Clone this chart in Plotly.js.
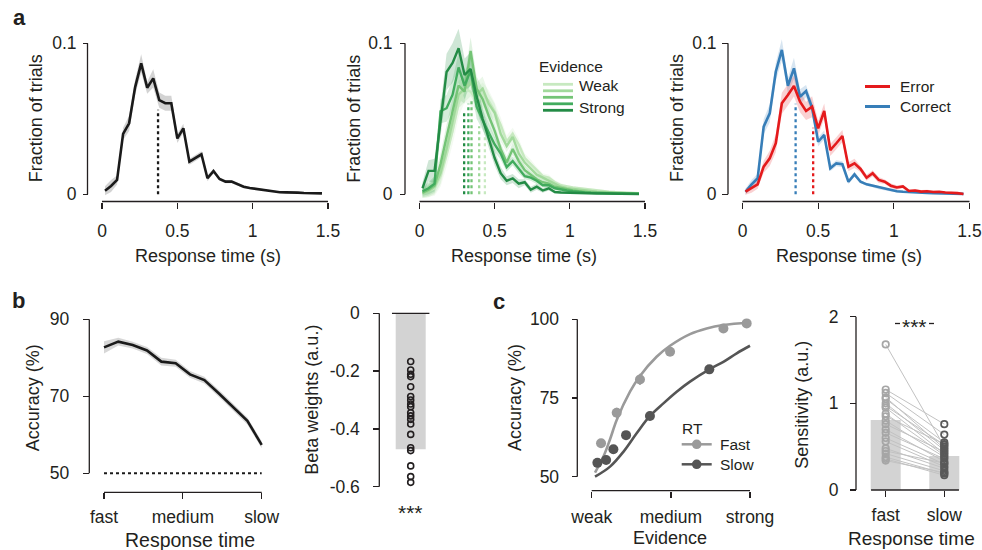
<!DOCTYPE html>
<html>
<head>
<meta charset="utf-8">
<script src="https://cdn.plot.ly/plotly-3.0.1.min.js"></script>
<style>
  html, body { margin: 0; padding: 0; background: #fff; }
  #fig { width: 982px; height: 550px; }
</style>
</head>
<body>
<div id="fig"></div>
<script>
// ---------------- data ----------------
// response-time histogram bin centres (s)
const rtBins = [0.02, 0.06, 0.10, 0.14, 0.18, 0.22, 0.26, 0.30, 0.34, 0.38, 0.42, 0.46, 0.50, 0.54, 0.58, 0.62, 0.66, 0.70, 0.74,
  0.78, 0.82, 0.86, 0.90, 0.94, 0.98, 1.02, 1.06, 1.10, 1.14, 1.18, 1.22, 1.26, 1.30, 1.34, 1.38, 1.42, 1.46];
const rtTicks = [0, 0.5, 1, 1.5];
const rtTickText = ['0', '0.5', '1', '1.5'];
const fracTicks = [0, 0.1];
const fracTickText = ['0', '0.1'];

// all trials
const fracAll = [0.0024, 0.0055, 0.0095, 0.040, 0.047, 0.071, 0.0867, 0.0706, 0.0768, 0.0624, 0.0603, 0.0603, 0.037, 0.0437,
  0.0216, 0.0238, 0.0265, 0.0106, 0.0154, 0.0101, 0.0084, 0.0084, 0.0066, 0.005, 0.0042, 0.0036, 0.0034, 0.0026, 0.002, 0.0014,
  0.0013, 0.0014, 0.0011, 0.0009, 0.0008, 0.0008, 0.0006];
const semAll = [0.003, 0.004, 0.003, 0.004, 0.005, 0.005, 0.006, 0.004, 0.006, 0.005, 0.005, 0.005, 0.003, 0.003, 0.002, 0.002,
  0.002, 0.002, 0.0015, 0.001, 0.001, 0.001, 0.001, 0.001, 0.0008, 0.0008, 0.0007, 0.0006, 0.0005, 0.0005, 0.0005, 0.0004,
  0.0004, 0.0004, 0.0003, 0.0003, 0.0003];
const medianAll = 0.372;
const medianAllTop = 0.056;

// split by evidence strength (weak -> strong)
const evidenceNames = ['Weak', '', '', '', 'Strong'];
const evidenceColors = ['#c7e9c0', '#a1d99b', '#74c476', '#41ab5d', '#238b45'];
const fracEv1 = [0.0005, 0.002, 0.004, 0.012, 0.026, 0.042, 0.060, 0.070, 0.068, 0.062, 0.066, 0.062, 0.055, 0.046, 0.035, 0.040,
  0.033, 0.024, 0.020, 0.016, 0.012, 0.011, 0.008, 0.006, 0.005, 0.0045, 0.004, 0.0035, 0.003, 0.0025, 0.002, 0.0018, 0.0015,
  0.0013, 0.0012, 0.001, 0.0008];
const fracEv2 = [0.0005, 0.002, 0.005, 0.014, 0.030, 0.048, 0.066, 0.070, 0.074, 0.066, 0.070, 0.060, 0.054, 0.040, 0.032, 0.038,
  0.027, 0.021, 0.017, 0.013, 0.011, 0.009, 0.007, 0.005, 0.004, 0.0035, 0.003, 0.0025, 0.002, 0.0017, 0.0015, 0.0012, 0.001,
  0.0009, 0.0008, 0.0007, 0.0006];
const fracEv3 = [0.001, 0.003, 0.006, 0.020, 0.038, 0.055, 0.072, 0.068, 0.095, 0.070, 0.063, 0.052, 0.042, 0.030, 0.021, 0.030,
  0.022, 0.016, 0.013, 0.010, 0.008, 0.007, 0.005, 0.004, 0.003, 0.0025, 0.002, 0.0015, 0.0012, 0.001, 0.0009, 0.0008, 0.0007,
  0.0006, 0.0005, 0.0005, 0.0004];
const fracEv4 = [0.002, 0.004, 0.007, 0.055, 0.057, 0.066, 0.084, 0.072, 0.082, 0.058, 0.049, 0.041, 0.033, 0.027, 0.018, 0.022,
  0.017, 0.012, 0.011, 0.009, 0.006, 0.006, 0.004, 0.003, 0.0025, 0.002, 0.0015, 0.0012, 0.001, 0.001, 0.0008, 0.0007, 0.0006,
  0.0005, 0.0005, 0.0004, 0.0004];
const fracEv5 = [0.004, 0.0155, 0.0155, 0.050, 0.081, 0.087, 0.0967, 0.079, 0.083, 0.065, 0.050, 0.037, 0.024, 0.014, 0.009, 0.0105,
  0.007, 0.008, 0.003, 0.005, 0.0025, 0.004, 0.0015, 0.0012, 0.001, 0.001, 0.0008, 0.0006, 0.0006, 0.0005, 0.0005, 0.0004, 0.0004,
  0.0003, 0.0003, 0.0003, 0.0002];
const semEv1 = [0.003, 0.004, 0.005, 0.007, 0.008, 0.009, 0.009, 0.009, 0.009, 0.008, 0.008, 0.007, 0.006, 0.005, 0.004, 0.004,
  0.004, 0.003, 0.003, 0.002, 0.002, 0.002, 0.0015, 0.0015, 0.001, 0.001, 0.001, 0.001, 0.0008, 0.0008, 0.0008, 0.0006, 0.0006,
  0.0006, 0.0005, 0.0005, 0.0005];
const semEv2 = [0.003, 0.004, 0.005, 0.007, 0.008, 0.009, 0.009, 0.009, 0.009, 0.008, 0.008, 0.007, 0.006, 0.005, 0.004, 0.004,
  0.004, 0.003, 0.003, 0.002, 0.002, 0.002, 0.0015, 0.0015, 0.001, 0.001, 0.001, 0.001, 0.0008, 0.0008, 0.0008, 0.0006, 0.0006,
  0.0006, 0.0005, 0.0005, 0.0005];
const semEv3 = [0.003, 0.004, 0.005, 0.007, 0.008, 0.009, 0.009, 0.008, 0.009, 0.008, 0.007, 0.006, 0.005, 0.004, 0.004, 0.004,
  0.003, 0.003, 0.002, 0.002, 0.002, 0.0015, 0.0015, 0.001, 0.001, 0.001, 0.001, 0.0008, 0.0008, 0.0008, 0.0006, 0.0006, 0.0006,
  0.0005, 0.0005, 0.0005, 0.0004];
const semEv4 = [0.003, 0.004, 0.005, 0.008, 0.009, 0.010, 0.010, 0.009, 0.009, 0.008, 0.007, 0.006, 0.005, 0.004, 0.003, 0.003,
  0.003, 0.002, 0.002, 0.002, 0.0015, 0.0015, 0.001, 0.001, 0.001, 0.001, 0.0008, 0.0008, 0.0008, 0.0006, 0.0006, 0.0006, 0.0005,
  0.0005, 0.0005, 0.0004, 0.0004];
const semEv5 = [0.004, 0.007, 0.008, 0.010, 0.012, 0.013, 0.013, 0.011, 0.011, 0.009, 0.007, 0.006, 0.005, 0.004, 0.003, 0.003,
  0.003, 0.002, 0.002, 0.002, 0.0015, 0.0015, 0.001, 0.001, 0.001, 0.001, 0.0008, 0.0008, 0.0008, 0.0006, 0.0006, 0.0006, 0.0005,
  0.0005, 0.0005, 0.0004, 0.0004];
const medianEv = [0.435, 0.397, 0.346, 0.325, 0.297];
const medianEvTop = [0.040, 0.045, 0.062, 0.060, 0.055];

// split by outcome
const fracError = [0.0017, 0.004, 0.0066, 0.0183, 0.0238, 0.0338, 0.0603, 0.0658, 0.0717, 0.0613, 0.0552, 0.058, 0.0437, 0.0552,
  0.0293, 0.0338, 0.0386, 0.0183, 0.0205, 0.0168, 0.011, 0.0139, 0.0095, 0.0083, 0.0057, 0.0045, 0.0052, 0.0022, 0.0025, 0.0018,
  0.002, 0.0015, 0.0017, 0.0012, 0.0011, 0.0008, 0.0002];
const fracCorrect = [0.0017, 0.0066, 0.0106, 0.0448, 0.0536, 0.0812, 0.0956, 0.0719, 0.0834, 0.0646, 0.0684, 0.0573, 0.0348, 0.0393,
  0.0172, 0.0205, 0.0199, 0.0083, 0.0132, 0.0083, 0.0066, 0.0057, 0.0044, 0.0035, 0.0026, 0.002, 0.0017, 0.0014, 0.0011, 0.0010,
  0.0009, 0.0008, 0.0007, 0.0006, 0.0005, 0.0004, 0.0003];
const semError = [0.002, 0.003, 0.003, 0.004, 0.005, 0.006, 0.007, 0.007, 0.007, 0.007, 0.006, 0.007, 0.005, 0.005, 0.004, 0.004,
  0.004, 0.003, 0.003, 0.002, 0.002, 0.002, 0.002, 0.0015, 0.0015, 0.0015, 0.0012, 0.001, 0.001, 0.001, 0.001, 0.001, 0.0008,
  0.0008, 0.0006, 0.0005, 0.0005];
const semCorrect = [0.002, 0.003, 0.003, 0.005, 0.006, 0.006, 0.007, 0.005, 0.007, 0.005, 0.004, 0.004, 0.003, 0.003, 0.002, 0.002,
  0.002, 0.0015, 0.0015, 0.001, 0.001, 0.001, 0.001, 0.001, 0.0008, 0.0008, 0.0007, 0.0006, 0.0005, 0.0005, 0.0005, 0.0004, 0.0004,
  0.0004, 0.0003, 0.0003, 0.0003];
const medianError = 0.467, medianErrorTop = 0.044;
const medianCorrect = 0.351, medianCorrectTop = 0.060;

// accuracy across response-time bins (fast -> slow)
const rtRank = [0, 1, 2, 3, 4, 5, 6, 7, 8, 9, 10, 11];
const rtRankTicks = [0, 5.5, 11];
const rtRankText = ['fast', 'medium', 'slow'];
const accByRt = [82.7, 84.2, 83.3, 81.9, 79.0, 78.6, 75.7, 74.2, 70.8, 67.3, 63.6, 57.4];
const accByRtSem = [1.6, 1.0, 0.9, 0.9, 1.0, 0.9, 0.9, 0.9, 0.9, 0.9, 0.9, 0.9];
const chanceLevel = 50;
const accTicksB = [50, 70, 90];

// regression beta weights of response time on accuracy
const betaMean = -0.47;
const betaSubjects = [-0.167, -0.196, -0.211, -0.219, -0.254, -0.288, -0.300, -0.314, -0.323, -0.344, -0.355, -0.367, -0.383,
  -0.419, -0.465, -0.475, -0.528, -0.565, -0.585];
const betaTicks = [0, -0.2, -0.4, -0.6];
const betaTickText = ['0', '-0.2', '-0.4', '-0.6'];

// psychometric data, fast vs slow responses
const evTicks = [0, 0.5, 1];
const evTickText = ['weak', 'medium', 'strong'];
const accTicksC = [50, 75, 100];
const fastEvX = [0.059, 0.158, 0.305, 0.495, 0.832, 0.979];
const fastAcc = [60.6, 70.3, 80.9, 89.7, 97.1, 98.7];
const fastAccSem = [1.4, 1.6, 1.8, 1.0, 0.8, 0.6];
const slowEvX = [0.036, 0.091, 0.137, 0.217, 0.368, 0.743];
const slowAcc = [54.4, 55.3, 58.7, 63.2, 69.3, 84.1];
const slowAccSem = [1.0, 1.0, 1.0, 1.2, 1.4, 1.3];
const fastFitX = [0.021, 0.074, 0.116, 0.158, 0.242, 0.305, 0.41, 0.495, 0.621, 0.726, 0.832, 1.0];
const fastFitY = [51.3, 56.4, 61.9, 68.0, 77.0, 82.0, 88.1, 91.6, 95.3, 97.1, 98.2, 99.0];
const slowFitX = [0.021, 0.116, 0.2, 0.284, 0.368, 0.453, 0.537, 0.621, 0.743, 0.832, 0.916, 1.0];
const slowFitY = [50.0, 53.2, 57.9, 63.8, 69.3, 73.3, 77.0, 80.2, 84.1, 86.5, 89.2, 91.6];

// per-subject sensitivity
const sensGroups = [0, 1];
const sensGroupText = ['fast', 'slow'];
const sensMean = [0.807, 0.392];
const sensFast = [1.68, 1.16, 1.12, 1.07, 1.05, 1.00, 0.97, 0.95, 0.88, 0.85, 0.80, 0.76, 0.70, 0.66, 0.60, 0.56, 0.48, 0.45,
  0.42, 0.38, 0.36, 0.34];
const sensSlow = [0.50, 0.76, 0.64, 0.48, 0.55, 0.46, 0.52, 0.42, 0.40, 0.53, 0.38, 0.44, 0.33, 0.36, 0.30, 0.27, 0.25, 0.31,
  0.22, 0.19, 0.17, 0.20];
const sensTicks = [0, 1, 2];

// ---------------- styling ----------------
const W = 982, H = 550;
const FONT = 'Liberation Sans, Arial, Helvetica, sans-serif';
const INK = '#231f20';
const TICK_SIZE = 17.5;

// map a pair of calibration values to pixels and return the pixel span of a range
function span(cal, r) {
  const [v0, p0, v1, p1] = cal;
  const s = (p1 - p0) / (v1 - v0);
  return [p0 + (r[0] - v0) * s, p0 + (r[1] - v0) * s];
}
const xDomain = (cal, r) => span(cal, r).map(p => p / W);
const yDomain = (cal, r) => { const [a, b] = span(cal, r); return [1 - a / H, 1 - b / H]; };

// subplot geometry (pixel calibrations of the axes)
const panels = [
  { xcal: [0, 102, 1.5, 328], ycal: [0, 194.3, 0.1, 43.3], xr: [-0.02, 1.52], yr: [-0.008, 0.114],
    yPos: 87.5, xPos: 201.5, xSpine: [0, 1.5], ySpine: [0, 0.1], xt: [rtTicks, rtTickText], yt: [fracTicks, fracTickText],
    ylen: 4.5, ystand: 3, xstand: 7 },
  { xcal: [0, 419.5, 1.5, 645], ycal: [0, 194.3, 0.1, 43.3], xr: [-0.02, 1.52], yr: [-0.008, 0.114],
    yPos: 405, xPos: 201.5, xSpine: [0, 1.5], ySpine: [0, 0.1], xt: [rtTicks, rtTickText], yt: [fracTicks, fracTickText],
    ylen: 5, ystand: 4, xstand: 7 },
  { xcal: [0, 742.5, 1.5, 969.5], ycal: [0, 194.3, 0.1, 43.3], xr: [-0.02, 1.52], yr: [-0.008, 0.114],
    yPos: 728, xPos: 201.5, xSpine: [0, 1.5], ySpine: [0, 0.1], xt: [rtTicks, rtTickText], yt: [fracTicks, fracTickText],
    ylen: 6, ystand: 2, xstand: 7 },
  { xcal: [0, 104, 11, 261.7], ycal: [50, 473.3, 90, 319.3], xr: [-0.4, 11.4], yr: [47, 92],
    yPos: 89.3, xPos: 492.3, xSpine: [0, 11], ySpine: [50, 90], xt: [rtRankTicks, rtRankText], yt: [accTicksB, accTicksB.map(String)],
    ylen: 6.5, ystand: 10, xstand: 3 },
  { xcal: [0, 410.7, 1, 458.7], ycal: [-0.6, 486.7, 0, 313.3], xr: [-0.6, 0.6], yr: [-0.63, 0.02],
    yPos: 379.3, xPos: 313.3, xSpine: [-0.39, 0.39], ySpine: [-0.6, 0], xt: null, yt: [betaTicks, betaTickText],
    ylen: 6, ystand: 10, xstand: 0 },
  { xcal: [0, 591.7, 1, 750], ycal: [50, 476.7, 100, 319.3], xr: [-0.06, 1.06], yr: [47, 103],
    yPos: 577.3, xPos: 490.7, xSpine: [0, 1], ySpine: [50, 100], xt: [evTicks, evTickText], yt: [accTicksC, accTicksC.map(String)],
    ylen: 5.7, ystand: 9, xstand: 4 },
  { xcal: [0, 885.7, 1, 944.3], ycal: [0, 490, 2, 316.7], xr: [-0.3, 1.3], yr: [-0.05, 2.1],
    yPos: 856, xPos: 490, xSpine: [-0.25, 1.25], ySpine: [0, 2], xt: [sensGroups, sensGroupText], yt: [sensTicks, sensTicks.map(String)],
    ylen: 6, ystand: 8, xstand: 3 }
];

const layout = {
  width: W, height: H,
  margin: { l: 0, r: 0, t: 0, b: 0, pad: 0 },
  paper_bgcolor: '#ffffff', plot_bgcolor: 'rgba(0,0,0,0)',
  showlegend: false,
  font: { family: FONT, color: INK, size: TICK_SIZE },
  shapes: [], annotations: []
};
const axRef = [];
panels.forEach((p, i) => {
  const n = i === 0 ? '' : String(i + 1);
  axRef.push(['x' + n, 'y' + n]);
  const tickfont = { family: FONT, size: TICK_SIZE, color: INK };
  layout['xaxis' + n] = {
    domain: xDomain(p.xcal, p.xr), range: p.xr, anchor: 'free', position: 1 - p.xPos / H,
    showline: false, zeroline: false, showgrid: false, fixedrange: true,
    ticks: p.xt ? 'outside' : '', ticklen: 6, tickwidth: 1.3, tickcolor: INK,
    tickmode: 'array', tickvals: p.xt ? p.xt[0] : [], ticktext: p.xt ? p.xt[1] : [],
    showticklabels: !!p.xt, tickfont, ticklabelstandoff: p.xstand
  };
  layout['yaxis' + n] = {
    domain: yDomain(p.ycal, p.yr), range: p.yr, anchor: 'free', position: p.yPos / W,
    showline: false, zeroline: false, showgrid: false, fixedrange: true,
    ticks: 'outside', ticklen: p.ylen, tickwidth: 1.3, tickcolor: INK,
    tickmode: 'array', tickvals: p.yt[0], ticktext: p.yt[1],
    showticklabels: true, tickfont, ticklabelstandoff: p.ystand
  };
  // axis spines spanning only the labelled range
  const [xs0, xs1] = span(p.xcal, p.xSpine);
  const [ys0, ys1] = span(p.ycal, p.ySpine);
  const spine = { type: 'line', xref: 'paper', yref: 'paper', line: { color: INK, width: 1.3 }, layer: 'above' };
  layout.shapes.push(Object.assign({}, spine, { x0: xs0 / W, x1: xs1 / W, y0: 1 - p.xPos / H, y1: 1 - p.xPos / H }));
  layout.shapes.push(Object.assign({}, spine, { x0: p.yPos / W, x1: p.yPos / W, y0: 1 - ys0 / H, y1: 1 - ys1 / H }));
});

// ---------------- traces ----------------
const traces = [];
function band(ax, xs, ys, es, color) {
  const up = ys.map((v, i) => v + es[i]);
  const lo = ys.map((v, i) => v - es[i]).reverse();
  traces.push({ type: 'scatter', mode: 'lines', xaxis: ax[0], yaxis: ax[1],
    x: xs.concat(xs.slice().reverse()), y: up.concat(lo), fill: 'toself', fillcolor: color,
    line: { width: 0 }, hoverinfo: 'skip' });
}
function curve(ax, xs, ys, color, width, dash, name) {
  traces.push({ type: 'scatter', mode: 'lines', xaxis: ax[0], yaxis: ax[1], x: xs, y: ys, name: name || '',
    line: { color, width, dash: dash || 'solid' } });
}
function medianMark(ax, m, top, color) {
  curve(ax, [m, m], [0, top], color, 2.3, 'dot');
}
function rgba(hex, a) {
  const v = parseInt(hex.slice(1), 16);
  return `rgba(${(v >> 16) & 255},${(v >> 8) & 255},${v & 255},${a})`;
}

// a: all trials
band(axRef[0], rtBins, fracAll, semAll, 'rgba(175,175,175,0.55)');
curve(axRef[0], rtBins, fracAll, '#1a1a1a', 2.6);
medianMark(axRef[0], medianAll, medianAllTop, '#1a1a1a');

// a: by evidence
const fracEv = [fracEv1, fracEv2, fracEv3, fracEv4, fracEv5];
const semEv = [semEv1, semEv2, semEv3, semEv4, semEv5];
fracEv.forEach((f, i) => band(axRef[1], rtBins, f, semEv[i], rgba(evidenceColors[i], 0.22)));
fracEv.forEach((f, i) => curve(axRef[1], rtBins, f, evidenceColors[i], 2.4, 'solid', evidenceNames[i]));
medianEv.forEach((m, i) => medianMark(axRef[1], m, medianEvTop[i], evidenceColors[i]));

// a: error vs correct
const RED = '#e41a1c', BLUE = '#377eb8';
band(axRef[2], rtBins, fracCorrect, semCorrect, rgba(BLUE, 0.2));
band(axRef[2], rtBins, fracError, semError, rgba(RED, 0.2));
curve(axRef[2], rtBins, fracCorrect, BLUE, 2.6, 'solid', 'Correct');
curve(axRef[2], rtBins, fracError, RED, 2.6, 'solid', 'Error');
medianMark(axRef[2], medianCorrect, medianCorrectTop, BLUE);
medianMark(axRef[2], medianError, medianErrorTop, RED);

// b: accuracy vs response time
band(axRef[3], rtRank, accByRt, accByRtSem, 'rgba(175,175,175,0.5)');
curve(axRef[3], rtRank, accByRt, '#1a1a1a', 2.6);
curve(axRef[3], [rtRank[0], rtRank[rtRank.length - 1]], [chanceLevel, chanceLevel], '#1a1a1a', 2, 'dot');

// b: beta weights
traces.push({ type: 'bar', xaxis: axRef[4][0], yaxis: axRef[4][1], x: [0], y: [betaMean], width: 0.625,
  marker: { color: '#d3d3d3', line: { width: 0 } } });
traces.push({ type: 'scatter', mode: 'markers', xaxis: axRef[4][0], yaxis: axRef[4][1],
  x: betaSubjects.map(() => 0), y: betaSubjects,
  marker: { symbol: 'circle-open', size: 6, color: INK, line: { width: 1.6 } } });

// c: psychometric curves
curve(axRef[5], fastFitX, fastFitY, '#9a9a9a', 2.6, 'solid');
curve(axRef[5], slowFitX, slowFitY, '#555555', 2.6, 'solid');
traces[traces.length - 2].line.shape = 'spline';
traces[traces.length - 1].line.shape = 'spline';
traces.push({ type: 'scatter', mode: 'markers', xaxis: axRef[5][0], yaxis: axRef[5][1], x: fastEvX, y: fastAcc, name: 'Fast',
  marker: { size: 10, color: '#9a9a9a' },
  error_y: { type: 'data', array: fastAccSem, color: '#9a9a9a', thickness: 1.5, width: 0 } });
traces.push({ type: 'scatter', mode: 'markers', xaxis: axRef[5][0], yaxis: axRef[5][1], x: slowEvX, y: slowAcc, name: 'Slow',
  marker: { size: 10, color: '#555555' },
  error_y: { type: 'data', array: slowAccSem, color: '#555555', thickness: 1.5, width: 0 } });

// c: sensitivity per subject
traces.push({ type: 'bar', xaxis: axRef[6][0], yaxis: axRef[6][1], x: sensGroups, y: sensMean, width: 0.512,
  marker: { color: '#d3d3d3', line: { width: 0 } } });
const pairX = [], pairY = [];
sensFast.forEach((v, i) => { pairX.push(sensGroups[0], sensGroups[1], null); pairY.push(v, sensSlow[i], null); });
traces.push({ type: 'scatter', mode: 'lines', xaxis: axRef[6][0], yaxis: axRef[6][1], x: pairX, y: pairY,
  line: { color: '#c2c2c2', width: 1 }, connectgaps: false });
traces.push({ type: 'scatter', mode: 'markers', xaxis: axRef[6][0], yaxis: axRef[6][1],
  x: sensFast.map(() => sensGroups[0]), y: sensFast,
  marker: { symbol: 'circle-open', size: 6.5, color: '#a6a6a6', line: { width: 1.7 } } });
traces.push({ type: 'scatter', mode: 'markers', xaxis: axRef[6][0], yaxis: axRef[6][1],
  x: sensSlow.map(() => sensGroups[1]), y: sensSlow,
  marker: { symbol: 'circle-open', size: 6.5, color: '#595959', line: { width: 1.7 } } });

traces.forEach(t => { t.showlegend = false; t.hoverinfo = 'skip'; });

// ---------------- text ----------------
function label(px, py, text, opts) {
  const o = opts || {};
  return {
    xref: 'paper', yref: 'paper', x: px / W, y: 1 - py / H, text, showarrow: false,
    xanchor: o.xanchor || 'center', yanchor: 'middle', textangle: o.angle || 0,
    font: { family: FONT, size: o.size || 18, color: o.color || INK }
  };
}
const A = layout.annotations;
// panel letters
A.push(label(19, 18, '<b>a</b>', { size: 22 }));
A.push(label(18.5, 300, '<b>b</b>', { size: 22 }));
A.push(label(499, 301, '<b>c</b>', { size: 22 }));
// axis titles
A.push(label(35.7, 118.5, 'Fraction of trials', { angle: -90 }));
A.push(label(353.2, 118.5, 'Fraction of trials', { angle: -90 }));
A.push(label(676.5, 118.5, 'Fraction of trials', { angle: -90 }));
A.push(label(207.5, 256, 'Response time (s)'));
A.push(label(524, 256, 'Response time (s)'));
A.push(label(848.7, 256, 'Response time (s)'));
A.push(label(33.3, 398, 'Accuracy (%)', { angle: -90 }));
A.push(label(190.3, 539.5, 'Response time', { size: 19.5 }));
A.push(label(311.7, 400, 'Beta weights (a.u.)', { angle: -90 }));
A.push(label(515, 398, 'Accuracy (%)', { angle: -90 }));
A.push(label(670, 538, 'Evidence'));
A.push(label(801.7, 405, 'Sensitivity (a.u.)', { angle: -90 }));
A.push(label(911.7, 538, 'Response time', { size: 19 }));
// significance marks
A.push(label(410.7, 512, '***', { size: 21 }));
A.push(label(914.5, 326.5, '***', { size: 21 }));
const sig = { type: 'line', xref: 'paper', yref: 'paper', line: { color: INK, width: 1.3 } };
layout.shapes.push(Object.assign({}, sig, { x0: 895 / W, x1: 900 / W, y0: 1 - 323.5 / H, y1: 1 - 323.5 / H }));
layout.shapes.push(Object.assign({}, sig, { x0: 929 / W, x1: 934 / W, y0: 1 - 323.5 / H, y1: 1 - 323.5 / H }));

// legend: evidence
A.push(label(571, 66, 'Evidence', { size: 15.5 }));
const evLegendY = [84.3, 90.8, 97.3, 103.8, 110.3];
evidenceColors.forEach((c, i) => layout.shapes.push({ type: 'line', xref: 'paper', yref: 'paper',
  x0: 543 / W, x1: 573 / W, y0: 1 - evLegendY[i] / H, y1: 1 - evLegendY[i] / H, line: { color: c, width: 2.8 } }));
A.push(label(577, 85.5, evidenceNames[0], { size: 15.5, xanchor: 'left' }));
A.push(label(577, 108, evidenceNames[4], { size: 15.5, xanchor: 'left' }));

// legend: outcome
[[RED, 'Error', 86.5], [BLUE, 'Correct', 106.5]].forEach(([c, t, y]) => {
  layout.shapes.push({ type: 'line', xref: 'paper', yref: 'paper', x0: 865 / W, x1: 890 / W, y0: 1 - y / H, y1: 1 - y / H,
    line: { color: c, width: 3 } });
  A.push(label(898, y, t, { size: 15.5, xanchor: 'left' }));
});

// legend: response-time split
A.push(label(692.5, 428.5, 'RT', { size: 15.5 }));
[['#9a9a9a', 'Fast', 444.3], ['#555555', 'Slow', 464.3]].forEach(([c, t, y]) => {
  layout.shapes.push({ type: 'line', xref: 'paper', yref: 'paper', x0: 681.7 / W, x1: 711.7 / W, y0: 1 - y / H, y1: 1 - y / H,
    line: { color: c, width: 2.5 } });
  layout.shapes.push({ type: 'circle', xref: 'paper', yref: 'paper', x0: (696.7 - 4.8) / W, x1: (696.7 + 4.8) / W,
    y0: 1 - (y + 4.8) / H, y1: 1 - (y - 4.8) / H, fillcolor: c, line: { width: 0 } });
  A.push(label(717.7, y, t, { size: 15.5, xanchor: 'left' }));
});

Plotly.newPlot('fig', traces, layout, { displayModeBar: false, staticPlot: true });
</script>
</body>
</html>
